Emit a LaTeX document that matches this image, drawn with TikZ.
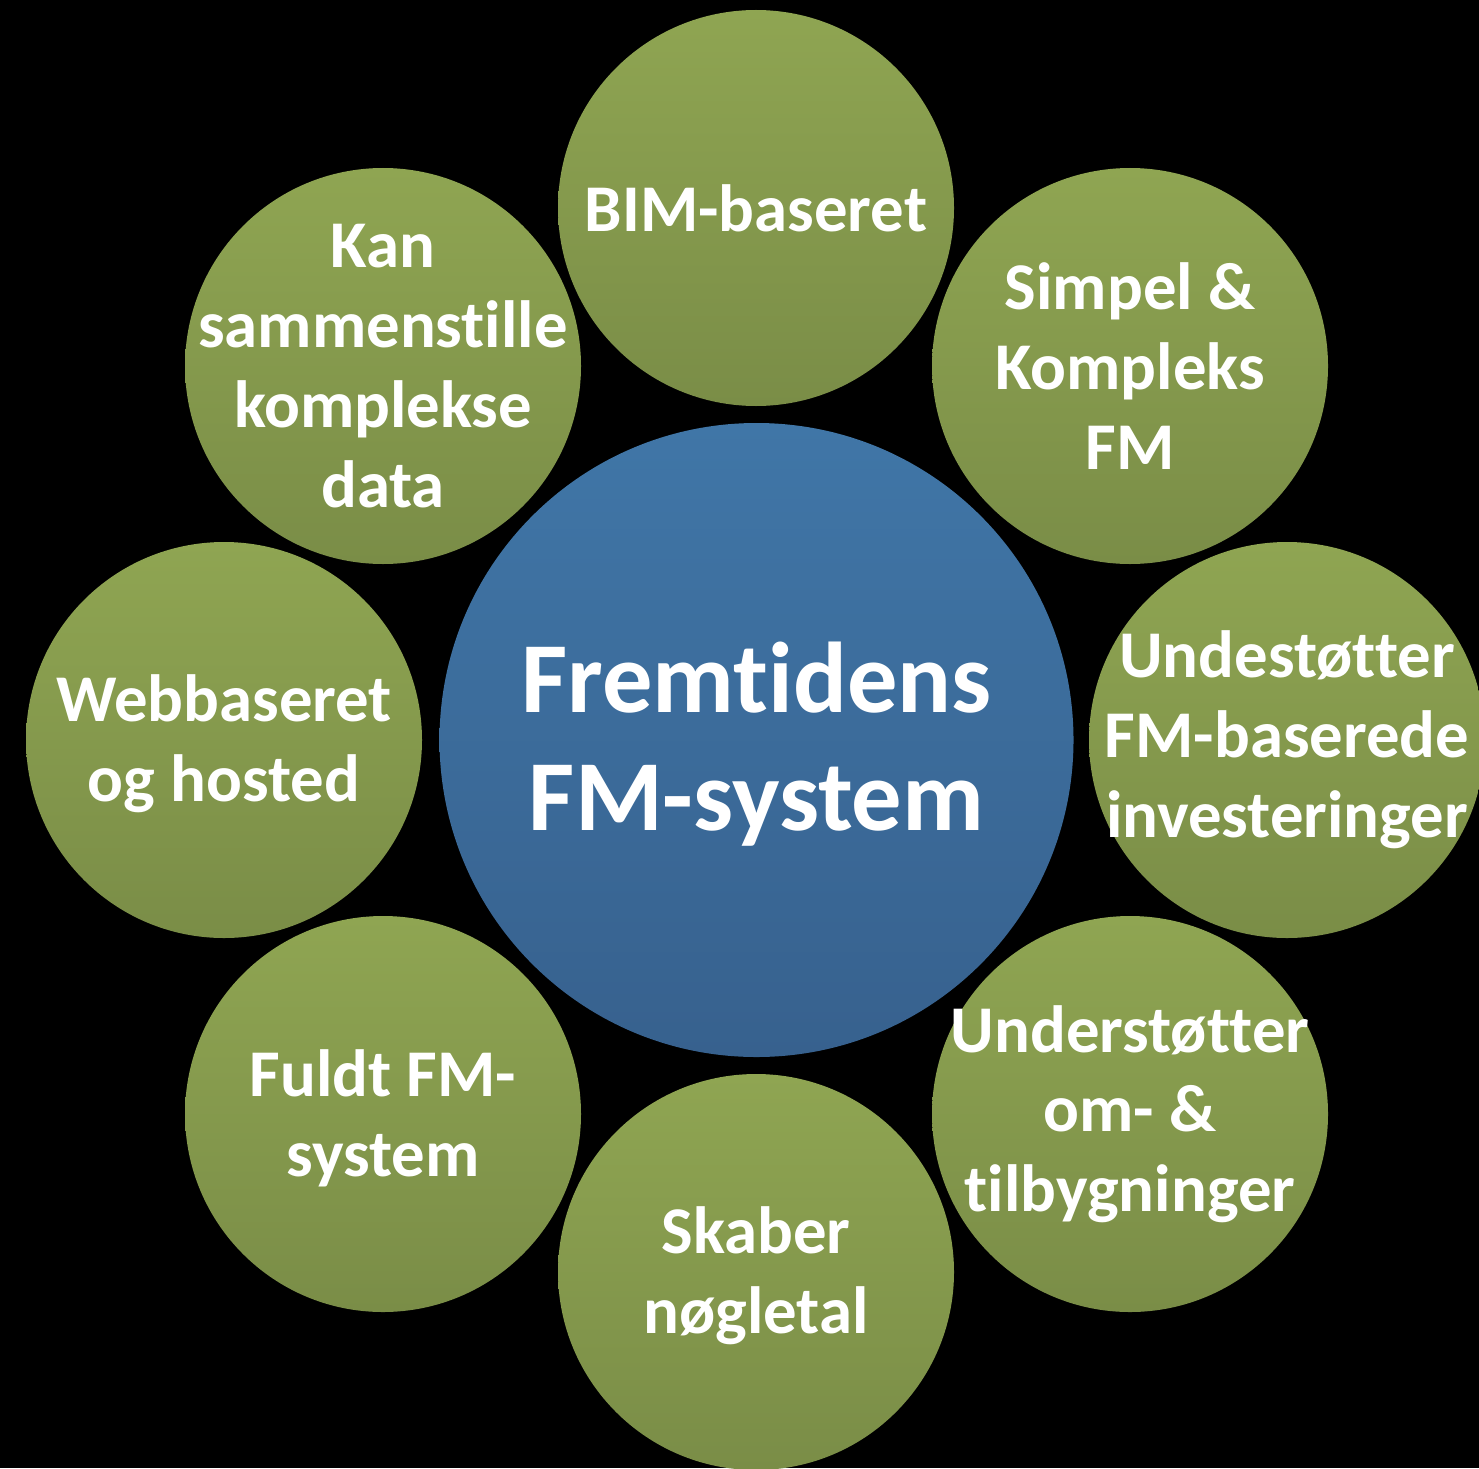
\documentclass[tikz,border=0pt]{standalone}
\usepackage{fontspec}
\setmainfont{Carlito}[Ligatures=NoCommon]
\usepackage{tikz}
\usetikzlibrary{positioning}
\definecolor{hubtop}{RGB}{64,118,167}
\definecolor{hubbot}{RGB}{55,97,142}
\definecolor{leaftop}{RGB}{143,165,82}
\definecolor{leafbot}{RGB}{122,141,71}

\begin{document}
\begin{tikzpicture}[
    hub/.style={circle, inner sep=0pt, minimum size=6.34cm, top color=hubtop, bottom color=hubbot},
    leaf/.style={circle, inner sep=0pt, minimum size=3.96cm, top color=leaftop, bottom color=leafbot},
    hubtext/.style={text=white, align=center, font=\fontsize{28.6}{33.6}\selectfont\bfseries},
    leaftext/.style={text=white, align=center, font=\fontsize{19}{22.7}\selectfont\bfseries}
  ]
  \fill[black] (0,0) rectangle (14.79,14.68);
  \useasboundingbox (0,0) rectangle (14.79,14.68);

  % centre
  \node[hub] (hub) at (7.565,7.28) {};
  \node[hubtext] (hubtxt) at ([yshift=-0.04cm]hub.center) {Fremtidens\\FM-system};

  % the eight bubbles round it
  \node[leaf] (bim) at (7.56,12.60) {};
  \node[leaftext] (bimtxt) at (bim.center) {BIM-baseret};

  \node[leaf] (simpel) at (11.30,11.02) {};
  \node[leaftext] (simpeltxt) at (simpel.center) {Simpel \&\\Kompleks\\FM};

  \node[leaf] (invest) at (12.87,7.28) {};
  \node[leaftext] (investtxt) at (invest.center) {Undestøtter\\FM-baserede\\investeringer};

  \node[leaf] (ombyg) at (11.30,3.54) {};
  \node[leaftext] (ombygtxt) at (ombyg.center) {Understøtter\\om- \&\\tilbygninger};

  \node[leaf] (noegle) at (7.56,1.96) {};
  \node[leaftext] (noegletxt) at ([yshift=-0.04cm]noegle.center) {Skaber\\nøgletal};

  \node[leaf] (fuldt) at (3.83,3.54) {};
  \node[leaftext] (fuldttxt) at ([yshift=-0.04cm]fuldt.center) {Fuldt FM-\\system};

  \node[leaf] (web) at (2.24,7.28) {};
  \node[leaftext] (webtxt) at ([yshift=-0.04cm]web.center) {Webbaseret\\og hosted};

  \node[leaf] (kan) at (3.83,11.02) {};
  \node[leaftext] (kantxt) at (kan.center) {Kan\\sammenstille\\komplekse\\data};
\end{tikzpicture}
\end{document}
